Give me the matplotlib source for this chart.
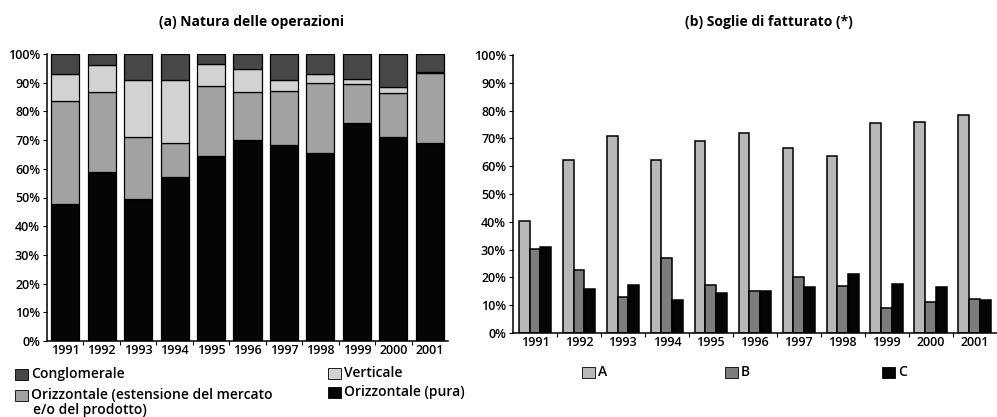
import matplotlib
matplotlib.use("Agg")
import matplotlib.pyplot as plt
from matplotlib.patches import Rectangle
import numpy as np

plt.rcParams['font.family'] = ['Open Sans', 'DejaVu Sans']

years = ["1991", "1992", "1993", "1994", "1995", "1996", "1997", "1998", "1999", "2000", "2001"]

# (a) Natura delle operazioni (percent, stacked from the bottom)
pura = [47.7, 58.8, 49.4, 57.3, 64.6, 70.0, 68.3, 65.4, 76.1, 71.2, 69.1]
estensione = [35.9, 27.8, 21.8, 11.8, 24.4, 16.6, 18.9, 24.6, 13.4, 15.1, 24.2]
verticale = [9.3, 9.6, 19.7, 21.8, 7.4, 8.0, 3.7, 2.9, 1.8, 2.3, 0.5]
conglomerale = [7.1, 3.8, 9.1, 9.1, 3.6, 5.4, 9.1, 7.1, 8.7, 11.4, 6.2]

# (b) Soglie di fatturato (percent)
soglia_a = [40.2, 62.2, 70.9, 62.2, 69.1, 71.8, 66.4, 63.7, 75.6, 75.9, 78.3]
soglia_b = [30.1, 22.8, 13.0, 26.8, 17.2, 15.0, 20.0, 16.9, 9.0, 11.0, 12.4]
soglia_c = [31.0, 16.0, 17.4, 11.8, 14.4, 15.1, 16.4, 21.4, 17.8, 16.6, 11.8]

yticks = [0, 10, 20, 30, 40, 50, 60, 70, 80, 90, 100]
ytick_labels = ["0%", "10%", "20%", "30%", "40%", "50%", "60%", "70%", "80%", "90%", "100%"]

c_cong = "#474747"
c_vert = "#d2d2d2"
c_est = "#a2a2a2"
c_pura = "#050505"
c_a = "#b8b8b8"
c_b = "#7c7c7c"
c_c = "#050505"

TW = "semibold"

W, H = 997, 417
fig = plt.figure(figsize=(W / 100, H / 100), dpi=100)

def fx(px):
    return px / W

def fy(py):
    return 1 - py / H

axL = fig.add_axes([fx(47), fy(341), fx(448 - 47), (341 - 54) / H])
axR = fig.add_axes([fx(513), fy(333), fx(997 - 513) - 0.0005, (333 - 55) / H])

x = np.arange(len(years))
bw = 0.77
bottom = np.zeros(len(years))
for vals, col in [(pura, c_pura), (estensione, c_est), (verticale, c_vert), (conglomerale, c_cong)]:
    axL.bar(x, vals, bw, bottom=bottom, color=col, edgecolor="black", linewidth=0.9)
    bottom += np.array(vals)

sw = 0.245
axR.bar(x - sw, soglia_a, sw, color=c_a, edgecolor="black", linewidth=1.1)
axR.bar(x, soglia_b, sw, color=c_b, edgecolor="black", linewidth=1.1)
axR.bar(x + sw, soglia_c, sw, color=c_c, edgecolor="black", linewidth=1.1)

for ax in (axL, axR):
    ax.set_xlim(-0.5, 10.5)
    ax.set_ylim(0, 100)
    ax.set_yticks(yticks)
    ax.set_yticklabels(ytick_labels, fontsize=9, fontweight=TW)
    ax.set_xticks(x)
    ax.set_xticklabels(years, fontsize=9, fontweight=TW)
    ax.set_xticks(x[:-1] + 0.5, minor=True)
    ax.tick_params(axis="x", which="major", length=0, pad=4)
    ax.tick_params(axis="x", which="minor", length=3, direction="out", width=0.8)
    ax.tick_params(axis="y", which="major", length=3, direction="out", width=0.8, pad=2)
    ax.spines["top"].set_visible(False)
    ax.spines["right"].set_visible(False)
    ax.spines["left"].set_linewidth(1.1)
    ax.spines["bottom"].set_linewidth(1.1)
axL.tick_params(axis="x", which="major", pad=2)
axR.tick_params(axis="x", which="major", pad=2)

fig.text(fx(252), fy(22), "(a) Natura delle operazioni", ha="center", va="center",
         fontsize=10, fontweight="bold")
fig.text(fx(769), fy(22), "(b) Soglie di fatturato (*)", ha="center", va="center",
         fontsize=10, fontweight="bold")

def legend_item(px, py, col, label, pw=13, ph=11, tx_off=5):
    fig.add_artist(Rectangle((fx(px), fy(py + ph / 2)), pw / W, ph / H,
                             facecolor=col, edgecolor="black", linewidth=0.6,
                             transform=fig.transFigure))
    fig.text(fx(px + pw + tx_off - 2), fy(py), label, ha="left", va="center",
             fontsize=10, fontweight=TW)

legend_item(15, 374, c_cong, "Conglomerale")
legend_item(15, 395, c_est, "Orizzontale (estensione del mercato")
fig.text(fx(33), fy(410), "e/o del prodotto)", ha="left", va="center", fontsize=10,
         fontweight=TW)
legend_item(328, 373, c_vert, "Verticale")
legend_item(328, 392, c_pura, "Orizzontale (pura)")

legend_item(582, 372, c_a, "A")
legend_item(725, 372, c_b, "B")
legend_item(882, 372, c_c, "C")

fig.savefig("out.png", dpi=100)
